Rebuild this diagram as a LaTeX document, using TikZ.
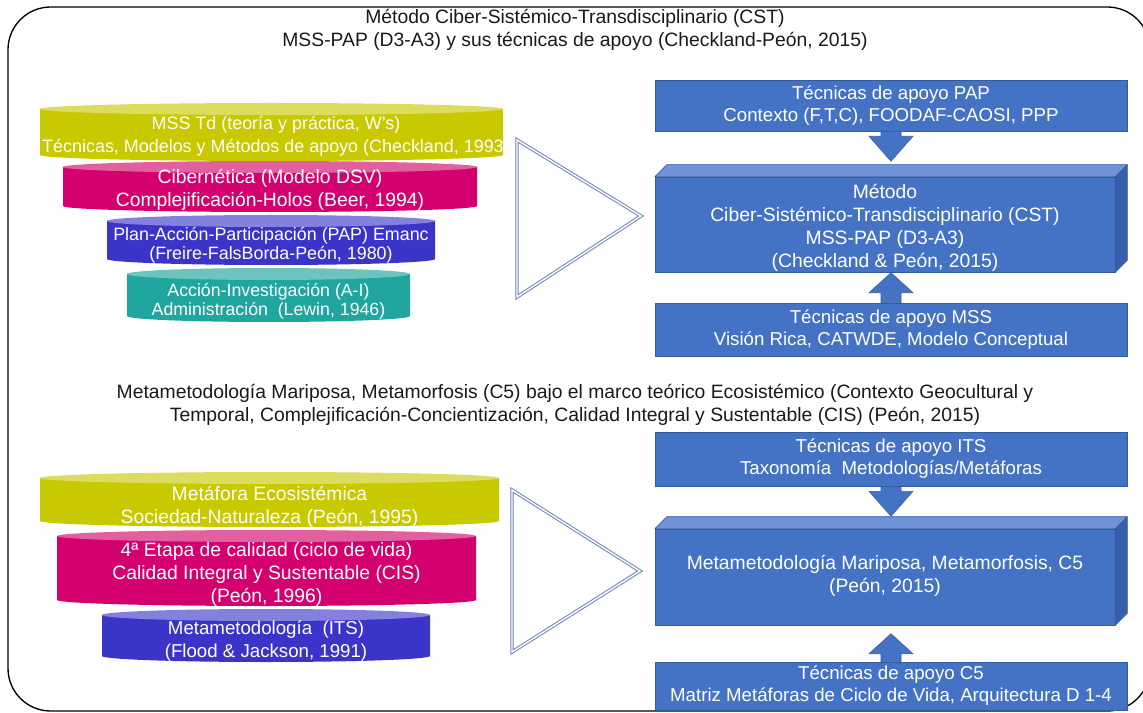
\documentclass[tikz,border=0pt]{standalone}
\usepackage{fontspec}
\setmainfont{Liberation Sans}
\usetikzlibrary{calc}

\definecolor{cylyellow}{RGB}{201,201,0}
\definecolor{cylyellowtop}{RGB}{220,220,95}
\definecolor{cylpink}{RGB}{211,0,110}
\definecolor{cylpinktop}{RGB}{226,95,160}
\definecolor{cylindigo}{RGB}{58,52,200}
\definecolor{cylindigotop}{RGB}{132,128,222}
\definecolor{cylteal}{RGB}{32,166,158}
\definecolor{cyltealtop}{RGB}{108,196,190}
\definecolor{boxblue}{RGB}{68,114,196}
\definecolor{boxedge}{RGB}{52,90,160}
\definecolor{boxtop}{RGB}{112,146,214}
\definecolor{boxside}{RGB}{54,94,170}
\definecolor{triedge}{RGB}{110,130,185}
\definecolor{titletext}{RGB}{25,25,25}

% cylinder: #1 left x, #2 right x, #3 top ellipse y, #4 bottom ellipse y, #5 colour
\newcommand{\drawcyl}[5]{%
  \fill[#5] (#1,#3) -- (#1,#4)
    arc[start angle=180, end angle=0, x radius={(#2-#1)/2}, y radius=6]
    -- (#2,#3) -- cycle;
  \fill[#5top] ({(#1+#2)/2},#3) ellipse[x radius={(#2-#1)/2}, y radius=6];
}
% block arrow: #1 base anchor, #2 shaft length, #3 head length (signed, px)
\newcommand{\blockarrow}[3]{%
  \filldraw[boxblue, draw=boxedge, line width=0.4pt]
    ($#1+(-10,0)$) -- ($#1+(-10,#2)$) -- ($#1+(-22,#2)$)
    -- ($#1+(0,#2+#3)$) -- ($#1+(22,#2)$) -- ($#1+(10,#2)$)
    -- ($#1+(10,0)$) -- cycle;
}
% bevelled top and side faces of a 3D box node
\newcommand{\cubefaces}[1]{%
  \filldraw[cubeface, fill=boxtop] (#1.north west) -- ++(12,-12)
    -- ($(#1.north east)+(12,-12)$) -- (#1.north east) -- cycle;
  \filldraw[cubeface, fill=boxside] (#1.north east) -- ++(12,-12)
    -- ($(#1.south east)+(12,-12)$) -- (#1.south east) -- cycle;
}

\tikzset{
  title/.style={align=center, text=titletext, inner sep=0pt,
    font=\fontsize{14.5}{17.25}\selectfont},
  cyltext/.style={align=center, text=white, inner sep=0pt,
    font=\fontsize{14.5}{17.25}\selectfont},
  bluebox/.style={draw=boxedge, fill=boxblue, line width=0.4pt,
    text=white, align=center, inner sep=0pt,
    minimum width=354pt, font=\fontsize{14}{16.5}\selectfont},
  boxtext/.style={text=white, align=center, inner sep=0pt,
    font=\fontsize{14.5}{17.25}\selectfont},
  cubeface/.style={draw=boxedge, line width=0.4pt, line join=round},
  tri/.style={draw=triedge, line width=0.75pt, double=white,
    double distance=1.1pt, line join=miter},
}

\begin{document}
\begin{tikzpicture}[x=0.75pt, y=-0.75pt]
\useasboundingbox (0,0) rectangle (1143,713);

% outer frame
\draw[line width=1pt, rounded corners=32pt] (8,7) rectangle (1150,711);

% ---------- upper part ----------
\node[title] (t1) at (575,30)
  {Método Ciber-Sistémico-Transdisciplinario (CST)\\
   MSS-PAP (D3-A3) y sus técnicas de apoyo (Checkland-Peón, 2015)};

\drawcyl{40}{503}{109}{155}{cylyellow}
\drawcyl{63}{477}{167}{206}{cylpink}
\drawcyl{107}{435}{221}{259}{cylindigo}
\drawcyl{127}{410}{274}{316}{cylteal}

\node[cyltext, font=\fontsize{13.45}{17.25}\selectfont] (mss) at (276,136.5)
  {MSS Td (teoría y práctica, W’s)\\
   Técnicas, Modelos y Métodos de apoyo (Checkland, 1993)};
\node[cyltext] (ciber) at (270,190)
  {Cibernética (Modelo DSV)\\Complejificación-Holos (Beer, 1994)};
\node[cyltext, font=\fontsize{13.4}{14.25}\selectfont] (pap) at (271,245)
  {Plan-Acción-Participación (PAP) Emanc\\(Freire-FalsBorda-Peón, 1980)};
\node[cyltext, font=\fontsize{13.3}{14.5}\selectfont] (ai) at (268.5,301.5)
  {Acción-Investigación (A-I)\\Administración~ (Lewin, 1946)};

\draw[tri] (517,140) -- (517,297) -- (641,216) -- cycle;

\node[bluebox, minimum height=38.25pt] (pap-tec) at (891,105.5)
  {Técnicas de apoyo PAP\\Contexto (F,T,C), FOODAF-CAOSI, PPP};

\node[bluebox, minimum width=345pt, minimum height=71.25pt] (cst) at (885,224.5) {};
\cubefaces{cst}
\node[boxtext] (cst-text) at ($(cst.center)+(0,3)$)
  {Método\\Ciber-Sistémico-Transdisciplinario (CST)\\MSS-PAP (D3-A3)\\(Checkland \& Peón, 2015)};

\node[bluebox, minimum height=39.75pt] (mss-tec) at (891,329.5)
  {Técnicas de apoyo MSS\\Visión Rica, CATWDE, Modelo Conceptual};

\blockarrow{(pap-tec.south)}{5}{25}
\blockarrow{(mss-tec.north)}{-10}{-20}

% ---------- lower part ----------
\node[title] (t2) at (575,405)
  {Metametodología Mariposa, Metamorfosis (C5) bajo el marco teórico Ecosistémico (Contexto Geocultural y\\
   Temporal, Complejificación-Concientización, Calidad Integral y Sustentable (CIS) (Peón, 2015)};

\drawcyl{40}{499}{478}{521}{cylyellow}
\drawcyl{57}{476}{536}{600}{cylpink}
\drawcyl{102}{430}{615}{656}{cylindigo}

\node[cyltext] (eco) at (269.5,506.5)
  {Metáfora Ecosistémica\\Sociedad-Naturaleza (Peón, 1995)};
\node[cyltext] (cis) at (266.5,574)
  {4ª Etapa de calidad (ciclo de vida)\\Calidad Integral y Sustentable (CIS)\\(Peón, 1996)};
\node[cyltext, font=\fontsize{14}{17}\selectfont] (its) at (266,641)
  {Metametodología~ (ITS)\\(Flood \& Jackson, 1991)};

\draw[tri] (512,490) -- (512,652) -- (640,571) -- cycle;

\node[bluebox, minimum height=40.5pt] (its-tec) at (891,459)
  {Técnicas de apoyo ITS\\Taxonomía~ Metodologías/Metáforas};

\node[bluebox, minimum width=345pt, minimum height=72pt] (c5) at (885,577) {};
\cubefaces{c5}
\node[boxtext] (c5-text) at ($(c5.center)+(0,-1)$)
  {Metametodología Mariposa, Metamorfosis, C5\\(Peón, 2015)};

\node[bluebox, minimum height=36pt] (c5-tec) at (891,686)
  {Técnicas de apoyo C5\\Matriz Metáforas de Ciclo de Vida, Arquitectura D 1-4};

\blockarrow{(its-tec.south)}{5}{25}
\blockarrow{(c5-tec.north)}{-8}{-20}

\end{tikzpicture}
\end{document}
